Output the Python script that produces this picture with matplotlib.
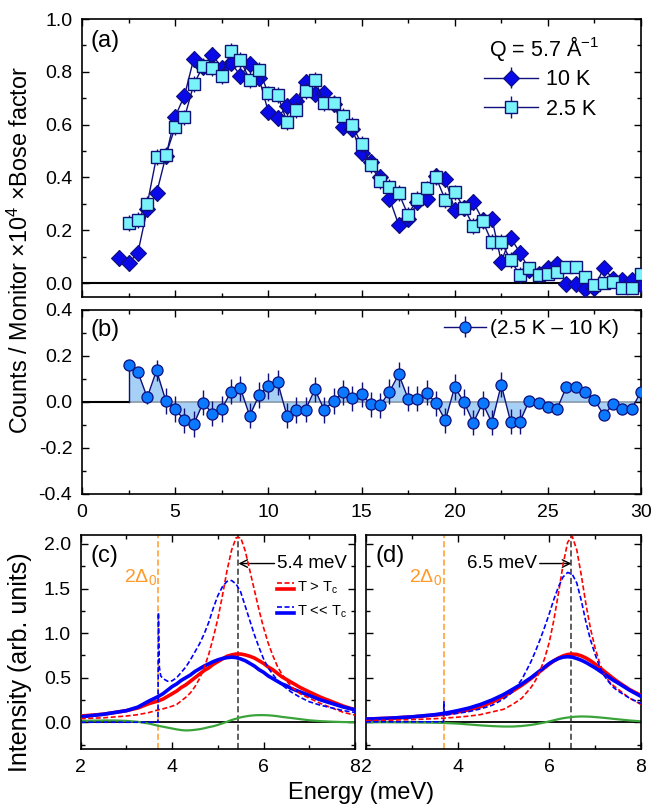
import numpy as np
import matplotlib
matplotlib.use("Agg")
import matplotlib.pyplot as plt
from matplotlib.ticker import MultipleLocator
from matplotlib.lines import Line2D
from matplotlib.legend_handler import HandlerTuple

plt.rcParams['font.family'] = ['Liberation Sans', 'DejaVu Sans']
plt.rcParams['mathtext.fontset'] = 'custom'
plt.rcParams['mathtext.rm'] = 'Liberation Sans'
plt.rcParams['mathtext.it'] = 'Liberation Sans:italic'
plt.rcParams['axes.unicode_minus'] = False

# ---- panel (a): Q = 5.7 1/A, counts/monitor x Bose factor ----
e_10k = [2.0, 2.5, 3.0, 3.5, 4.0, 4.5, 5.0, 5.5, 6.0, 6.5, 7.0, 7.5, 8.0, 8.5, 9.0, 9.5,
         10.0, 10.5, 11.0, 11.5, 12.0, 12.5, 13.0, 13.5, 14.0, 14.5, 15.0, 15.5, 16.0,
         16.5, 17.0, 17.5, 18.0, 18.5, 19.0, 19.5, 20.0, 20.5, 21.0, 21.5, 22.0, 22.5,
         23.0, 23.5, 24.0, 24.5, 25.0, 25.5, 26.0, 26.5, 27.0, 27.5, 28.0, 28.5, 29.0,
         29.5, 30.0]
i_10k = [0.096, 0.075, 0.115, 0.28, 0.34, 0.48, 0.63, 0.71, 0.85, 0.82, 0.865, 0.815,
         0.835, 0.785, 0.83, 0.777, 0.648, 0.626, 0.67, 0.69, 0.76, 0.715, 0.718, 0.678,
         0.592, 0.582, 0.493, 0.457, 0.40, 0.32, 0.22, 0.243, 0.305, 0.318, 0.405, 0.394,
         0.278, 0.285, 0.306, 0.24, 0.244, 0.081, 0.172, 0.115, 0.051, 0.035, 0.056,
         0.073, -0.005, -0.005, -0.021, -0.018, 0.057, 0.015, 0.012, 0.012, -0.009]
err_10k = [0.03] * 44 + [0.02] * 13

e_2k = e_10k[1:]
i_2k = [0.228, 0.24, 0.298, 0.478, 0.485, 0.59, 0.627, 0.753, 0.822, 0.813, 0.785,
        0.88, 0.845, 0.77, 0.807, 0.718, 0.712, 0.611, 0.655, 0.727, 0.77, 0.683, 0.683,
        0.634, 0.598, 0.527, 0.447, 0.386, 0.365, 0.34, 0.258, 0.32, 0.358, 0.40, 0.314,
        0.343, 0.285, 0.216, 0.235, 0.154, 0.156, 0.087, 0.03, 0.056, 0.03, 0.036, 0.043,
        0.062, 0.062, 0.024, -0.008, 0.0, 0.005, -0.018, -0.018, 0.036]
err_2k = [0.03] * 43 + [0.02] * 13

# ---- panel (b): difference 2.5 K - 10 K ----
e_diff = e_2k
i_diff = [0.16, 0.13, 0.02, 0.137, 0.005, -0.03, -0.08, -0.096, -0.003, -0.05, -0.03,
          0.045, 0.06, -0.06, 0.03, 0.07, 0.086, -0.06, -0.035, -0.033, 0.055, -0.035,
          0.005, 0.042, 0.016, 0.034, -0.01, -0.015, 0.045, 0.12, 0.015, 0.015, 0.04,
          -0.005, -0.08, 0.065, 0.0, -0.09, -0.005, -0.09, 0.075, -0.085, -0.085, 0.005,
          -0.005, -0.02, -0.03, 0.067, 0.067, 0.045, 0.01, -0.057, -0.01, -0.03, -0.03,
          0.045]
err_diff = [0.02, 0.02, 0.03, 0.045] + [0.055] * 39 + [0.02] * 13

# ---- panel (c): model, resonance at 5.4 meV ----
e_c = [2.0, 2.25, 2.5, 2.75, 3.0, 3.25, 3.5, 3.7, 3.8, 3.9, 4.0, 4.1, 4.2, 4.3, 4.4, 4.5,
       4.6, 4.7, 4.8, 4.9, 5.0, 5.1, 5.2, 5.3, 5.4, 5.5, 5.6, 5.7, 5.8, 5.9, 6.0, 6.1,
       6.2, 6.3, 6.4, 6.5, 6.6, 6.8, 7.0, 7.25, 7.5, 7.75, 8.0]
c_hi_bare = [0.04, 0.045, 0.05, 0.06, 0.07, 0.085, 0.11, 0.14, 0.15, 0.165, 0.18, 0.20,
             0.24, 0.28, 0.33, 0.40, 0.49, 0.61, 0.76, 0.95, 1.16, 1.42, 1.70, 1.93, 2.07,
             2.07, 1.92, 1.70, 1.48, 1.26, 1.06, 0.89, 0.75, 0.63, 0.54, 0.47, 0.40, 0.32,
             0.27, 0.21, 0.16, 0.11, 0.08]
c_hi_conv = [0.07, 0.08, 0.09, 0.11, 0.13, 0.16, 0.21, 0.24, 0.26, 0.29, 0.32, 0.35, 0.39,
             0.42, 0.46, 0.50, 0.54, 0.58, 0.61, 0.65, 0.68, 0.71, 0.74, 0.755, 0.765,
             0.765, 0.755, 0.74, 0.72, 0.69, 0.66, 0.62, 0.59, 0.55, 0.51, 0.48, 0.45, 0.39,
             0.34, 0.28, 0.23, 0.18, 0.14]
c_lo_conv = [0.06, 0.075, 0.09, 0.11, 0.13, 0.17, 0.24, 0.29, 0.32, 0.36, 0.40, 0.43, 0.47,
             0.50, 0.53, 0.57, 0.60, 0.63, 0.655, 0.68, 0.70, 0.715, 0.725, 0.73, 0.725,
             0.71, 0.69, 0.66, 0.63, 0.59, 0.56, 0.52, 0.49, 0.46, 0.43, 0.41, 0.38, 0.34,
             0.30, 0.25, 0.21, 0.17, 0.14]
c_green = [0.015, 0.018, 0.02, 0.02, 0.015, 0.005, -0.015, -0.04, -0.05, -0.06, -0.07,
           -0.08, -0.088, -0.092, -0.09, -0.085, -0.078, -0.068, -0.055, -0.045, -0.03,
           -0.012, 0.005, 0.025, 0.04, 0.055, 0.065, 0.073, 0.078, 0.08, 0.08, 0.078,
           0.074, 0.068, 0.06, 0.054, 0.048, 0.035, 0.022, 0.012, 0.006, 0.002, 0.0]
e_c_sc = [2.0, 3.0, 3.69, 3.7, 3.72, 3.75, 3.8, 3.9, 4.0, 4.1, 4.2, 4.3, 4.4, 4.5, 4.6,
          4.7, 4.8, 4.9, 5.0, 5.1, 5.2, 5.3, 5.4, 5.5, 5.6, 5.7, 5.8, 5.9, 6.0, 6.1, 6.2,
          6.3, 6.4, 6.5, 6.6, 6.8, 7.0, 7.25, 7.5, 7.75, 8.0]
c_lo_bare = [0.0, 0.0, 0.0, 1.23, 0.62, 0.52, 0.49, 0.46, 0.465, 0.50, 0.56, 0.62, 0.70,
             0.79, 0.88, 0.99, 1.12, 1.28, 1.42, 1.52, 1.58, 1.59, 1.55, 1.46, 1.30, 1.14,
             0.98, 0.84, 0.71, 0.61, 0.54, 0.47, 0.42, 0.38, 0.34, 0.28, 0.23, 0.19, 0.16,
             0.13, 0.11]

# ---- panel (d): model, resonance at 6.5 meV ----
e_d = [2.0, 2.5, 3.0, 3.5, 3.7, 4.0, 4.25, 4.5, 4.75, 5.0, 5.2, 5.4, 5.6, 5.7, 5.8, 5.9,
       6.0, 6.1, 6.2, 6.3, 6.4, 6.5, 6.6, 6.7, 6.8, 6.9, 7.0, 7.1, 7.2, 7.3, 7.4, 7.5,
       7.75, 8.0]
d_hi_bare = [0.018, 0.023, 0.03, 0.04, 0.046, 0.057, 0.069, 0.086, 0.116, 0.145, 0.20,
             0.27, 0.39, 0.47, 0.58, 0.72, 0.90, 1.15, 1.45, 1.77, 2.02, 2.085, 1.93,
             1.64, 1.32, 1.045, 0.83, 0.66, 0.53, 0.46, 0.41, 0.37, 0.27, 0.20]
d_hi_conv = [0.035, 0.045, 0.06, 0.08, 0.09, 0.115, 0.14, 0.175, 0.225, 0.29, 0.35, 0.415,
             0.49, 0.53, 0.571, 0.612, 0.652, 0.689, 0.72, 0.744, 0.76, 0.765, 0.76,
             0.744, 0.72, 0.689, 0.652, 0.612, 0.571, 0.53, 0.49, 0.452, 0.367, 0.30]
d_lo_conv = [0.035, 0.045, 0.06, 0.085, 0.10, 0.13, 0.16, 0.20, 0.25, 0.31, 0.37, 0.43,
             0.50, 0.54, 0.58, 0.62, 0.66, 0.69, 0.715, 0.73, 0.735, 0.73, 0.715, 0.695,
             0.67, 0.64, 0.61, 0.575, 0.54, 0.505, 0.47, 0.44, 0.36, 0.29]
d_green = [0.0, 0.0, -0.002, -0.005, -0.008, -0.015, -0.025, -0.035, -0.043, -0.048,
           -0.048, -0.042, -0.03, -0.022, -0.012, -0.002, 0.01, 0.022, 0.035, 0.045, 0.053,
           0.059, 0.063, 0.065, 0.064, 0.062, 0.058, 0.054, 0.049, 0.044, 0.038, 0.033,
           0.02, 0.01]
e_d_sc = [2.0, 3.0, 3.69, 3.7, 3.71, 4.0, 4.25, 4.5, 4.75, 5.0, 5.2, 5.4, 5.6, 5.7, 5.8,
          5.9, 6.0, 6.1, 6.2, 6.3, 6.4, 6.5, 6.6, 6.7, 6.8, 6.9, 7.0, 7.1, 7.2, 7.3, 7.4,
          7.5, 7.75, 8.0]
d_lo_bare = [0.005, 0.005, 0.005, 0.23, 0.08, 0.10, 0.12, 0.15, 0.19, 0.26, 0.34, 0.48,
             0.68, 0.80, 0.93, 1.07, 1.22, 1.38, 1.52, 1.63, 1.68, 1.66, 1.56, 1.36, 1.12,
             0.92, 0.76, 0.62, 0.52, 0.45, 0.39, 0.35, 0.27, 0.21]

gap = 3.7          # 2*Delta_0
res_c = 5.45       # resonance position marked in (c)
res_d = 6.48       # resonance position marked in (d)

navy = '#10107a'
dia_face = '#0a0ae8'
sq_face = '#7af2fa'
circ_face = '#0a78ff'
TICK = 14


def style(ax):
    ax.tick_params(which='both', direction='in', top=True, right=True,
                   labelsize=TICK, width=1.0, pad=7)
    ax.tick_params(which='major', length=5)
    ax.tick_params(which='minor', length=3)
    for s in ax.spines.values():
        s.set_linewidth(1.2)


fig = plt.figure(figsize=(6.67, 8.06), dpi=100)
W, H = 667.0, 806.0
ax_a = fig.add_axes([82 / W, 1 - 297 / H, 559 / W, 278 / H])
ax_b = fig.add_axes([82 / W, 1 - 494 / H, 559 / W, 184 / H])
ax_c = fig.add_axes([80.7 / W, 1 - 749 / H, 274.3 / W, 214 / H])
ax_d = fig.add_axes([366 / W, 1 - 749 / H, 275 / W, 214 / H])

# ---------------- (a) ----------------
ax = ax_a
ax.axhline(0, color='k', lw=1.5, zorder=1)
ax.errorbar(e_10k, i_10k, yerr=err_10k, fmt='D-', color=navy, lw=1.0, elinewidth=1.0,
            ms=8.5, mfc=dia_face, mec=navy, mew=0.8, capsize=0, zorder=3, label='10 K')
ax.errorbar(e_2k, i_2k, yerr=err_2k, fmt='s-', color=navy, lw=1.0, elinewidth=1.0,
            ms=8, mfc=sq_face, mec=navy, mew=1.0, capsize=0, zorder=4, label='2.5 K')
ax.set_xlim(0, 30)
ax.set_ylim(-0.053, 1.0)
ax.xaxis.set_major_locator(MultipleLocator(5))
ax.xaxis.set_minor_locator(MultipleLocator(2.5))
ax.yaxis.set_major_locator(MultipleLocator(0.2))
ax.yaxis.set_minor_locator(MultipleLocator(0.1))
style(ax)
ax.tick_params(labelbottom=False)
ax.text(0.016, 0.96, '(a)', transform=ax.transAxes, fontsize=17, va='top')
ax.text(0.728, 0.895, 'Q = 5.7 Å$^{-1}$', transform=ax.transAxes, fontsize=15.5,
        ha='left', va='center')
h, l = ax.get_legend_handles_labels()
ax.legend(h, l, loc='upper left', bbox_to_anchor=(0.72, 0.82), frameon=False,
          fontsize=15.5, handlelength=2.5, handletextpad=0.35, labelspacing=0.4,
          borderpad=0, borderaxespad=0)

# ---------------- (b) ----------------
ax = ax_b
ax.plot([0, e_diff[0]], [0, 0], color='k', lw=1.5, zorder=2)
ax.fill_between(e_diff, i_diff, 0, color='#a6d0f5', lw=0, zorder=1)
ax.plot([e_diff[0], e_diff[-1]], [0, 0], color='#8a9aaa', lw=1.2, zorder=1.5)
ax.plot([e_diff[0], e_diff[0]], [0, i_diff[0]], color=navy, lw=1.0, zorder=2)
ax.errorbar(e_diff, i_diff, yerr=err_diff, fmt='o-', color=navy, lw=1.0,
            elinewidth=1.0, ms=8, mfc=circ_face, mec=navy, mew=0.9, capsize=0,
            zorder=3, label='(2.5 K – 10 K)')
ax.set_xlim(0, 30)
ax.set_ylim(-0.4, 0.4)
ax.xaxis.set_major_locator(MultipleLocator(5))
ax.xaxis.set_minor_locator(MultipleLocator(2.5))
ax.yaxis.set_major_locator(MultipleLocator(0.2))
ax.yaxis.set_minor_locator(MultipleLocator(0.1))
style(ax)
ax.text(0.016, 0.95, '(b)', transform=ax.transAxes, fontsize=17, va='top')
ax.legend(loc='upper right', bbox_to_anchor=(0.96, 0.95), frameon=False, fontsize=15,
          handlelength=2.0, handletextpad=0.2, borderpad=0, borderaxespad=0)

fig.text(0.03, 1 - 250 / H, 'Counts / Monitor ×10$^{4}$ ×Bose factor', rotation=90,
         ha='center', va='center', fontsize=16.8)


# ---------------- (c) and (d) ----------------
def model_panel(ax, e, hi_bare, hi_conv, lo_conv, green, e_sc, lo_bare, res):
    ax.axhline(0, color='k', lw=1.3, zorder=1)
    ax.axvline(gap, color='#ff9a2a', lw=1.1, ls=(0, (4, 2)), zorder=1)
    ax.axvline(res, color='#333333', lw=1.1, ls=(0, (4, 2)), zorder=1)
    ax.plot(e, green, color='#3aa43a', lw=1.6, zorder=2)
    ax.plot(e, hi_conv, color='#ff0000', lw=2.6, zorder=3)
    ax.plot(e, lo_conv, color='#0000ff', lw=2.6, zorder=4)
    ax.plot(e, hi_bare, color='#ff0000', lw=1.2, ls=(0, (3, 1.5)), zorder=5)
    ax.plot(e_sc, lo_bare, color='#0000ff', lw=1.2, ls=(0, (3, 1.5)), zorder=6)
    ax.set_xlim(2, 8)
    ax.set_ylim(-0.3, 2.1)
    ax.xaxis.set_major_locator(MultipleLocator(2))
    ax.xaxis.set_minor_locator(MultipleLocator(1))
    ax.yaxis.set_major_locator(MultipleLocator(0.5))
    ax.yaxis.set_minor_locator(MultipleLocator(0.25))
    style(ax)
    ax.text(gap - 0.04, 1.63, '2Δ$_\\mathrm{0}$', color='#ff9a2a', fontsize=14,
            ha='right', va='center')


model_panel(ax_c, e_c, c_hi_bare, c_hi_conv, c_lo_conv, c_green, e_c_sc, c_lo_bare, res_c)
model_panel(ax_d, e_d, d_hi_bare, d_hi_conv, d_lo_conv, d_green, e_d_sc, d_lo_bare, res_d)

fig.text(0.03, 1 - 662 / H, 'Intensity (arb. units)', rotation=90, ha='center',
         va='center', fontsize=18)
ax_c.text(0.035, 0.955, '(c)', transform=ax_c.transAxes, fontsize=17, va='top')
ax_d.text(0.035, 0.955, '(d)', transform=ax_d.transAxes, fontsize=17, va='top')
ax_d.tick_params(labelleft=False)

ax_c.annotate('5.4 meV', xy=(res_c, 1.78), xytext=(6.3, 1.78), fontsize=13.5,
              va='center', ha='left',
              arrowprops=dict(arrowstyle='->', color='k', lw=1.0, shrinkA=0, shrinkB=0))
ax_d.annotate('6.5 meV', xy=(res_d, 1.78), xytext=(5.73, 1.78), fontsize=13.5,
              va='center', ha='right',
              arrowprops=dict(arrowstyle='->', color='k', lw=1.0, shrinkA=0, shrinkB=0))

hi_handle = (Line2D([], [], color='#ff0000', lw=1.2, ls=(0, (3, 1.5))),
             Line2D([], [], color='#ff0000', lw=2.6))
lo_handle = (Line2D([], [], color='#0000ff', lw=1.2, ls=(0, (3, 1.5))),
             Line2D([], [], color='#0000ff', lw=2.6))


class HandlerStack(HandlerTuple):
    def create_artists(self, legend, orig_handle, xdescent, ydescent, width, height,
                       fontsize, trans):
        arts = []
        for k, hnd in enumerate(orig_handle):
            yy = ydescent + height * (0.85 - 0.55 * k)
            ln = Line2D([xdescent, xdescent + width], [yy, yy])
            ln.update_from(hnd)
            ln.set_transform(trans)
            arts.append(ln)
        return arts


ax_c.legend([hi_handle, lo_handle], ['T > T$_\\mathrm{c}$', 'T << T$_\\mathrm{c}$'],
            handler_map={tuple: HandlerStack()}, loc='upper left',
            bbox_to_anchor=(0.715, 0.79), frameon=False, fontsize=10.5,
            handlelength=1.2, handletextpad=0.2, labelspacing=0.5, borderpad=0,
            borderaxespad=0)

fig.text((80.7 + 641) / 2 / W, 1 - 793 / H, 'Energy (meV)', ha='center', va='center',
         fontsize=17)

fig.savefig('out.png', dpi=100)
